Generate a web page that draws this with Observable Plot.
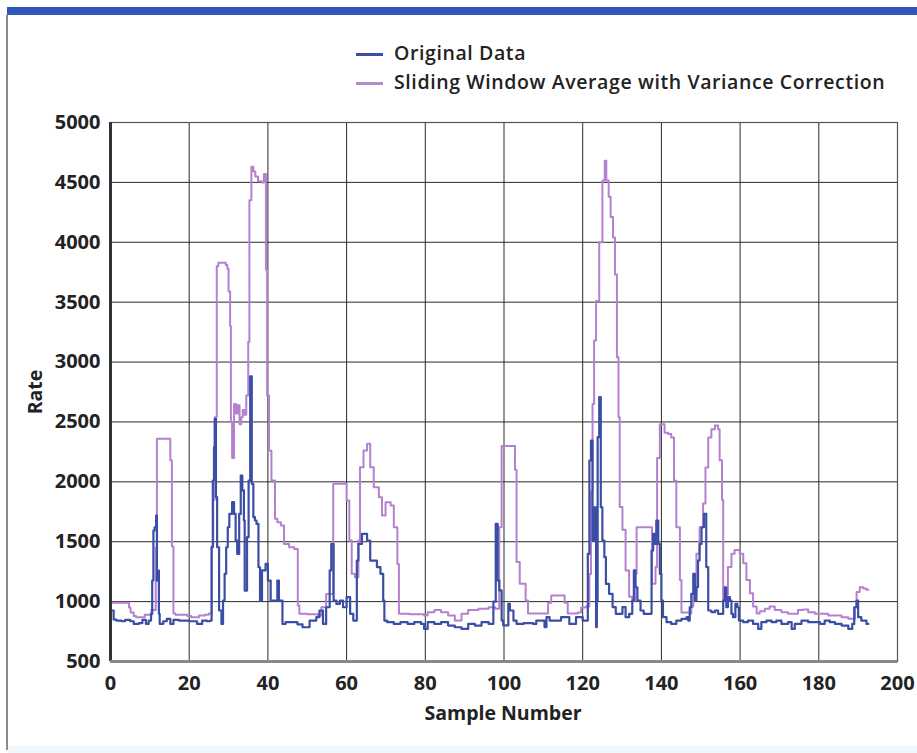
<!DOCTYPE html>
<html>
<head>
<meta charset="utf-8">
<script src="https://cdn.jsdelivr.net/npm/d3@7"></script>
<script src="https://cdn.jsdelivr.net/npm/@observablehq/plot@0.6"></script>
<style>
  body { margin: 0; background: #fff; }
  #wrap { position: relative; width: 917px; height: 753px; overflow: hidden; font-family: "Open Sans", sans-serif; color: #222; }
  #bar { position: absolute; left: 7px; top: 7px; width: 910px; height: 8px; background: #3057b8; }
  #lborder { position: absolute; left: 6px; top: 15px; width: 2px; height: 735px; background: #8a8a8a; }
  #bband { position: absolute; left: 8px; top: 746px; width: 909px; height: 7px; background: #eef7fa; }
  #chart { position: absolute; left: 0; top: 0; }
  .legline { position: absolute; left: 356px; width: 27px; height: 3px; }
  .legtxt { position: absolute; left: 394px; font-weight: 600; font-size: 19.5px; letter-spacing: 0.6px; line-height: 20px; white-space: nowrap; }
  .axlabel { position: absolute; font-weight: 700; font-size: 19.5px; line-height: 20px; white-space: nowrap; }
</style>
</head>
<body>
<div id="wrap">
  <div id="bar"></div>
  <div id="lborder"></div>
  <div id="bband"></div>
  <div id="chart"></div>
  <div class="legline" style="top:53px;background:#3b4ea6"></div>
  <div class="legtxt" style="top:43px">Original Data</div>
  <div class="legline" style="top:82px;background:#b58ad0"></div>
  <div class="legtxt" style="top:72px">Sliding Window Average with Variance Correction</div>
  <div class="axlabel" style="left:503px;top:703px;transform:translateX(-50%)">Sample Number</div>
  <div class="axlabel" style="left:35px;top:392px;transform:translate(-50%,-50%) rotate(-90deg)">Rate</div>
</div>
<script>
// Tick values
const xTicks = [0, 20, 40, 60, 80, 100, 120, 140, 160, 180, 200];
const yTicks = [500, 1000, 1500, 2000, 2500, 3000, 3500, 4000, 4500, 5000];

// Original Data (sample number, rate)
const origX = [0,0.8,1.5,2.8,3.7,5.0,5.9,7.2,8.1,9.0,9.7,10.3,10.6,10.9,11.2,11.6,11.8,12.1,12.3,12.5,13.4,14.3,15.2,16.0,17.4,18.7,20,21.2,22.0,23.3,24.5,25.3,25.7,26.0,26.3,26.5,26.8,27.1,27.6,28.2,28.6,29.0,29.4,29.8,30.2,30.9,31.4,31.8,32.2,32.7,33.1,33.5,33.9,34.1,34.7,35.1,35.5,35.9,36.3,36.7,37.1,37.6,38.0,38.5,39.4,40,40.7,41.5,42.4,42.8,43.7,44.5,46.3,47.5,48.8,50.6,52.3,53.1,54,54.8,55.7,56.1,56.7,57.4,58.3,59.1,60,60.9,61.7,62.6,63,63.9,65.2,66,67.7,68.6,69.3,69.6,70.3,72,73.7,75.5,77.2,78.9,79.7,80.6,82.3,84,85.8,87.5,89.2,90.9,92.6,94.3,96.1,97.3,97.9,98.4,98.8,99.4,99.8,101.1,101.5,102.4,103.2,105,107.4,108.2,109.9,110.3,110.8,111.6,113.3,114.5,116.6,118.3,120,120.8,121.3,121.7,122.1,122.5,122.9,123.4,123.6,123.8,124.2,124.6,125,125.5,125.9,126.7,127.6,128.4,129.2,130.1,130.9,131.8,132.6,133,133.4,133.9,134.7,135.5,136.8,137.5,137.9,138.3,138.7,139.2,139.6,140,140.4,141.3,142.5,143.8,145.1,146.4,146.8,147.2,147.6,148.1,148.5,148.9,149.3,149.7,150.2,150.8,151.4,151.9,152.7,153.6,154.4,155.3,155.7,156.1,156.5,156.9,157.4,157.8,158.2,158.8,159.3,159.7,160.8,162,163.3,164.6,165.4,166.7,168,169.2,170.5,172.2,173.1,173.9,175.6,177.3,179,180.3,181.5,182.8,184.1,185.8,187.5,188.5,189,189.6,190,190.8,192.1,192.6];
const origY = [926,850,842,836,848,836,814,820,848,814,842,898,1176,1593,1621,1718,1176,1259,898,814,836,856,814,848,842,842,836,836,814,842,836,842,1454,2011,2289,2526,1872,1454,926,814,1009,1232,1454,1621,1732,1830,1732,1510,1398,1732,2053,1928,1677,1092,1538,2011,2880,1983,1705,1677,1649,1287,1009,1260,1315,1176,1009,1009,1176,1009,814,828,828,810,786,842,870,926,814,953,1260,1482,1009,981,1009,953,1037,898,842,1343,1482,1566,1510,1343,1288,1232,1009,842,828,814,828,814,828,814,772,828,814,828,800,786,772,814,800,828,814,1000,1649,1176,1093,842,801,981,926,842,814,820,814,842,842,787,870,842,842,870,814,870,842,842,1399,2178,2345,1510,1788,787,1009,2373,2707,1788,1510,1371,1148,1065,954,898,898,954,870,898,1009,1260,1120,1009,926,898,898,1426,1566,1482,1677,1482,1232,1009,870,828,814,842,856,870,842,953,1064,1232,1009,1120,1343,1482,1621,1733,1288,926,912,926,898,898,1009,1120,953,1037,1009,898,870,981,953,842,828,842,814,772,828,842,828,842,814,828,772,814,842,828,828,814,842,828,814,800,772,814,953,1009,870,842,814,814];

// Sliding Window Average with Variance Correction (sample number, rate)
const smoothX = [0,4.7,5.1,5.9,6.5,8.7,10.4,11.5,11.8,15.2,15.6,16.0,16.5,19.5,20.5,22.5,24.0,25.0,25.7,26.1,26.5,27.0,27.4,29.3,29.7,30.0,30.4,30.6,30.9,31.4,31.9,32.3,32.8,33.2,33.6,34.0,34.5,35.0,35.3,35.8,36.3,36.8,37.5,38.4,39.0,39.5,39.8,40.3,40.9,41.8,42.4,43.3,44.1,45.4,46.7,47.6,48,50,52.7,53.6,54.8,56.1,56.6,59.1,60,60.7,61.3,62.1,63,63.4,64.3,65.2,66,66.9,68.2,69,69.9,71.2,72,72.9,73.3,76,79.7,80.6,82.3,84,85.8,87.5,89.2,90.9,93.5,96.1,97.8,98.8,99.4,102.4,102.8,103.2,104,105.5,106.1,110.3,111.2,112,114.5,115.4,116.2,118.7,119.6,120.8,121.7,122.1,122.5,122.9,123.4,124.2,125,125.6,126,126.6,127.1,127.7,128.2,128.7,129.1,129.4,130.1,130.9,131.8,132.6,133.4,133.7,137.2,137.6,138.5,138.9,139.6,140.8,141.7,142.5,143.2,143.8,144.7,145.1,147.2,147.6,148.1,148.9,149.7,150.6,151.2,151.9,152.7,153.6,154.4,154.8,155.4,155.7,156.3,156.9,157.8,158.6,159.9,160.8,161.6,162.5,163.3,164.2,165,166.3,167.5,168.8,170.5,172.2,174.7,176,177.3,179,182.4,185.8,187.5,189.2,189.6,190.4,191.3,192.1,192.6];
const smoothY = [990,950,910,880,870,890,930,1450,2360,2180,1460,900,890,880,870,885,890,900,1460,1850,2540,3800,3830,3810,3780,3590,3300,2500,2200,2650,2570,2640,2480,2540,2600,2560,2720,3170,4350,4630,4590,4550,4510,4500,4570,3770,2720,2260,2011,1691,1663,1635,1482,1454,1440,967,898,895,884,953,1064,1064,1983,1983,1844,1510,1232,1204,1510,2122,2262,2318,2122,1955,1872,1719,1830,1802,1621,1315,898,895,884,912,931,912,884,842,898,931,940,953,940,1621,2300,2300,2100,1330,1150,1010,900,900,990,1050,1050,990,900,910,950,960,1230,1920,2650,3180,3510,4000,4516,4680,4516,4380,4210,4040,3730,3040,2540,1790,1600,1260,1040,1010,1230,1620,1620,1150,1290,2200,2480,2410,2400,2370,2010,1620,1180,910,900,960,1070,1400,1620,1820,2120,2370,2440,2470,2440,2180,1850,1010,1060,1290,1400,1430,1400,1320,1180,1070,960,900,920,940,960,930,912,898,930,935,912,898,884,870,856,953,1080,1120,1110,1100,1100];

const orig = origX.map((x, i) => ({x, y: origY[i]}));
const smooth = smoothX.map((x, i) => ({x, y: smoothY[i]}));

const blue = "#3b4ea6";
const purple = "#b580d0";

const chart = Plot.plot({
  width: 917,
  height: 753,
  marginLeft: 110,
  marginRight: 20,
  marginTop: 122,
  marginBottom: 92,
  style: { background: "transparent", fontFamily: "Open Sans, sans-serif", fontSize: "20px", fontWeight: "bold", color: "#222" },
  x: { domain: [0, 200] },
  y: { domain: [500, 5000] },
  marks: [
    Plot.gridX(xTicks, { stroke: "#2a2a2a", strokeOpacity: 1, strokeWidth: 1 }),
    Plot.gridY(yTicks, { stroke: "#2a2a2a", strokeOpacity: 1, strokeWidth: 1 }),
    Plot.frame({ stroke: "#555", strokeWidth: 1.2 }),
    Plot.line(smooth, { x: "x", y: "y", curve: "step-after", stroke: purple, strokeWidth: 2 }),
    Plot.line(orig, { x: "x", y: "y", curve: "step-after", stroke: blue, strokeWidth: 2.2 }),
    Plot.ruleX([0], { stroke: "#333", strokeWidth: 3 }),
    Plot.ruleY([500], { stroke: "#888", strokeWidth: 3 }),
    Plot.axisX(xTicks, { tickSize: 0, tickPadding: 14, label: null, fontSize: 20, fontWeight: "bold", tickFormat: d3.format("d") }),
    Plot.axisY(yTicks, { tickSize: 0, tickPadding: 10, label: null, fontSize: 20, fontWeight: "bold", tickFormat: d3.format("d") })
  ]
});
document.getElementById("chart").appendChild(chart);
</script>
</body>
</html>
